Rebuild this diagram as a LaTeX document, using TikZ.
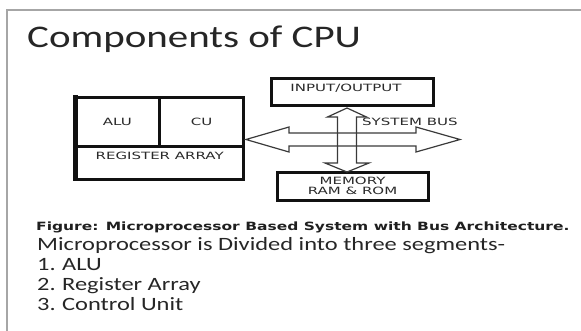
\documentclass[tikz,border=0pt]{standalone}
\usepackage{fontspec}
\setmainfont{Carlito}[FakeStretch=1.3]
\newfontfamily\diagfont{DejaVu Sans}[FakeStretch=1.5]
\newfontfamily\capfont{DejaVu Sans Bold}[FakeStretch=1.36]
\definecolor{ink}{HTML}{262626}
\definecolor{boxline}{HTML}{111111}
\definecolor{busline}{HTML}{3A3A3A}
\definecolor{lblink}{HTML}{2A2A2A}
\definecolor{framegray}{HTML}{A6A6A6}

\begin{document}
\begin{tikzpicture}[x=1pt,y=-1pt,
  unit/.style={draw=boxline, line width=3pt, inner sep=0pt, outer sep=0pt},
  txt/.style={inner sep=0pt, anchor=base west, text=ink},
  body/.style={txt, font=\fontsize{18.8}{20}\selectfont},
  lab/.style={inner sep=0pt, text=lblink, align=center,
              font=\diagfont\fontsize{10}{10}\selectfont},
  bus/.style={draw=busline, line width=1.2pt, line join=miter}]

\useasboundingbox (0,0) rectangle (581,330);

% slide frame
\draw[framegray, line width=1.3pt] (7,331) -- (7,10) -- (582,10);

% title
\node[txt, font=\fontsize{31.5}{36}\selectfont] (title) at (27,47) {Components of CPU};

% CPU block
\node[unit, minimum width=83.8pt, minimum height=48.7pt] (alu) at (117.4,121.85) {};
\node[unit, minimum width=84.5pt, minimum height=48.7pt] (cu) at (201.55,121.85) {};
\node[unit, minimum width=168.3pt, minimum height=32.8pt] (reg) at (159.65,162.6) {};
\draw[boxline, line width=4.5pt, line cap=rect] (alu.north west) -- (reg.south west);
\node[lab] (alulbl) at (alu.center) {ALU};
\node[lab] (culbl) at (cu.center) {CU};
\node[lab] (reglbl) at ([yshift=-9.5pt]reg.north) {REGISTER ARRAY};

% input/output and memory
\node[unit, minimum width=162pt, minimum height=27pt] (io) at (352,91.5) {};
\node[lab] (iolbl) at (346,88) {INPUT/OUTPUT};
\node[unit, minimum width=151pt, minimum height=28pt] (mem) at (352.5,186) {};
\node[lab] (memlbl) at (mem.center) {MEMORY\\RAM \& ROM};

% system bus: horizontal double arrow
\coordinate (tipL) at (246,139.5);
\coordinate (tipR) at (460,139.5);
\draw[bus] (tipL) -- (289,127) -- (289,133) -- (416,133) -- (416,127)
  -- (tipR) -- (416,152) -- (416,146) -- (289,146) -- (289,152) -- cycle;

% system bus: vertical double arrow
\coordinate (tipU) at (347,108);
\coordinate (tipD) at (347,172);
\draw[bus] (tipU) -- (366.5,117) -- (356.5,117) -- (356.5,163) -- (369,163)
  -- (tipD) -- (325,163) -- (337.5,163) -- (337.5,117) -- (327.5,117) -- cycle;

\node[lab, anchor=west] (buslbl) at (362,122) {SYSTEM BUS};

% caption and notes
\node[txt, font=\capfont\fontsize{11.4}{13}\selectfont, text=black!88] (cap) at (36,230)
  {Figure: Microprocessor Based System with Bus Architecture.};
\node[body] (intro) at (37,250) {Microprocessor is Divided into three segments-};
\node[body] (li1) at (37,270) {\makebox[25pt][l]{1.}ALU};
\node[body] (li2) at (37,290) {\makebox[25pt][l]{2.}Register Array};
\node[body] (li3) at (37,310) {\makebox[25pt][l]{3.}Control Unit};
\end{tikzpicture}
\end{document}
